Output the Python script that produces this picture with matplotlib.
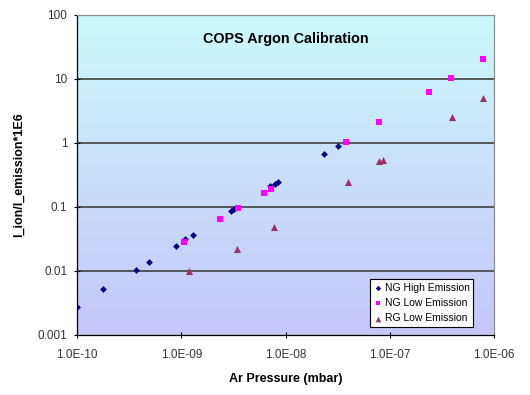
import numpy as np
import matplotlib
matplotlib.use("Agg")
import matplotlib.pyplot as plt
from matplotlib.colors import LinearSegmentedColormap
from matplotlib.ticker import FixedLocator, FixedFormatter, NullLocator

plt.rcParams['font.family'] = ['Liberation Sans', 'DejaVu Sans']

# NG High Emission
ng_high_p = [1.0e-10, 1.77e-10, 3.68e-10, 4.91e-10, 8.85e-10, 1.09e-9, 1.31e-9,
             3.0e-9, 3.2e-9, 7.14e-9, 7.93e-9, 8.53e-9, 2.36e-8, 3.21e-8]
ng_high_i = [0.00271, 0.00518, 0.0103, 0.0137, 0.0249, 0.0313, 0.0365,
             0.088, 0.093, 0.21, 0.226, 0.246, 0.665, 0.887]

# NG Low Emission
ng_low_p = [1.07e-9, 2.34e-9, 3.48e-9, 6.27e-9, 7.2e-9, 3.78e-8, 7.9e-8,
            2.38e-7, 3.87e-7, 7.85e-7]
ng_low_i = [0.0287, 0.065, 0.095, 0.168, 0.193, 1.04, 2.1,
            6.27, 10.4, 20.7]

# RG Low Emission
rg_low_p = [1.19e-9, 3.45e-9, 7.76e-9, 3.95e-8, 7.9e-8, 8.6e-8, 3.98e-7, 7.88e-7]
rg_low_i = [0.0099, 0.0221, 0.0487, 0.249, 0.53, 0.54, 2.55, 4.99]

x_ticks = [1e-10, 1e-9, 1e-8, 1e-7, 1e-6]
x_labels = ['1.0E-10', '1.0E-09', '1.0E-08', '1.0E-07', '1.0E-06']
y_ticks = [0.001, 0.01, 0.1, 1, 10, 100]
y_labels = ['0.001', '0.01', '0.1', '1', '10', '100']

fig = plt.figure(figsize=(5.3, 3.95), dpi=100)
ax = fig.add_axes([77 / 530, 1 - 335 / 395, 417 / 530, 320 / 395])
ax.set_xscale('log')
ax.set_yscale('log')
ax.set_xlim(1e-10, 1e-6)
ax.set_ylim(0.001, 100)

# gradient background, cyan at top to lavender at bottom
cmap = LinearSegmentedColormap.from_list('bg', ['#ccf9fd', '#c6c6f8'])
grad = np.linspace(0, 1, 256).reshape(-1, 1)
ax.imshow(grad, cmap=cmap, aspect='auto', extent=[0, 1, 0, 1], origin='upper',
          transform=ax.transAxes, zorder=0)

for yt in y_ticks[1:-1]:
    ax.axhline(yt, color='#404040', lw=1.2, zorder=1)

ax.scatter(ng_high_p, ng_high_i, marker='D', s=12, color='#000080',
           label='NG High Emission', zorder=3, linewidths=0)
ax.scatter(ng_low_p, ng_low_i, marker='s', s=20, color='#ff00ff',
           label='NG Low Emission', zorder=3, linewidths=0)
ax.scatter(rg_low_p, rg_low_i, marker='^', s=26, color='#993366',
           label='RG Low Emission', zorder=3, linewidths=0)

ax.xaxis.set_major_locator(FixedLocator(x_ticks))
ax.xaxis.set_major_formatter(FixedFormatter(x_labels))
ax.xaxis.set_minor_locator(NullLocator())
ax.yaxis.set_major_locator(FixedLocator(y_ticks))
ax.yaxis.set_major_formatter(FixedFormatter(y_labels))
ax.yaxis.set_minor_locator(NullLocator())
ax.tick_params(axis='both', labelsize=8.5, colors='black', labelcolor='#333333',
               length=4, direction='inout', width=0.8)
ax.tick_params(axis='x', pad=8)
ax.tick_params(axis='y', pad=5)

for side in ['left', 'bottom']:
    ax.spines[side].set_color('black')
    ax.spines[side].set_linewidth(0.9)
for side in ['top', 'right']:
    ax.spines[side].set_color('#909090')
    ax.spines[side].set_linewidth(0.9)

ax.text(0.5, 0.925, 'COPS Argon Calibration', transform=ax.transAxes,
        ha='center', va='center', fontsize=10.4, fontweight='bold')
ax.set_xlabel('Ar Pressure (mbar)', fontsize=9, fontweight='bold', labelpad=9)
ax.set_ylabel('I_ion/I_emission*1E6', fontsize=9, fontweight='bold', labelpad=9)

leg = ax.legend(loc='lower right', bbox_to_anchor=(0.95, 0.025), fontsize=7.5,
                frameon=True, fancybox=False, edgecolor='black', framealpha=1,
                handletextpad=0.1, borderpad=0.35, labelspacing=0.5,
                handlelength=1.0, borderaxespad=0, markerscale=0.8)
leg.get_frame().set_linewidth(0.8)

fig.savefig('out.png', dpi=100)
